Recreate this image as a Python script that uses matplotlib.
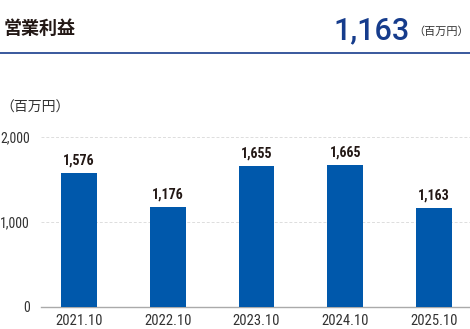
import matplotlib
matplotlib.use("Agg")
import matplotlib.pyplot as plt
from matplotlib import font_manager as fm

categories = ["2021.10", "2022.10", "2023.10", "2024.10", "2025.10"]
values = [1576, 1176, 1655, 1665, 1163]
value_labels = ["1,576", "1,176", "1,655", "1,665", "1,163"]
yticks = [0, 1000, 2000]
ytick_labels = ["0", "1,000", "2,000"]
title = "営業利益"
headline_value = "1,163"
unit = "（百万円）"

names = {f.name for f in fm.fontManager.ttflist}
cond = None
for n in ["Liberation Sans Narrow", "DejaVu Sans Condensed", "Roboto Condensed", "Open Sans Condensed"]:
    if n in names:
        cond = n
        break
if cond is None:
    cond = "DejaVu Sans"
CJK = ["Noto Sans CJK JP", "DejaVu Sans"]

W, H = 470, 329
fig = plt.figure(figsize=(W / 100, H / 100), dpi=100)
ax_left, ax_right, ax_bottom, ax_top = 41, 470, 307, 136.5
ax = fig.add_axes([ax_left / W, 1 - ax_bottom / H, (ax_right - ax_left) / W, (ax_bottom - ax_top) / H])

bar_color = "#0058AB"
x = list(range(len(categories)))
ax.bar(x, values, width=0.405, color=bar_color, zorder=3)
ax.set_xlim(-0.428, 4.405)
ax.set_ylim(0, 2000)
for xi, v, lab in zip(x, values, value_labels):
    ax.annotate(lab, (xi, v), xytext=(0, 4), textcoords="offset points", ha="center", va="bottom",
                fontsize=10, fontweight="bold", family=cond, color="#231815")

ax.set_yticks(yticks)
ax.set_yticklabels(ytick_labels, family=cond, fontsize=10, color="#333333")
ax.set_xticks(x)
ax.set_xticklabels(categories, family=cond, fontsize=10.5, color="#333333")
ax.tick_params(axis="both", length=0)
ax.tick_params(axis="y", pad=8)
ax.tick_params(axis="x", pad=5)
for yv in [1000, 2000]:
    ax.axhline(yv, color="#dddddd", linestyle=(0, (3, 2)), linewidth=0.7, zorder=1, clip_on=False)
for s in ["top", "right", "left"]:
    ax.spines[s].set_visible(False)
ax.spines["bottom"].set_color("#aaaaaa")
ax.spines["bottom"].set_linewidth(1.0)

# header
fig.text(4 / W, 1 - 28 / H, title, family=CJK, fontsize=13, fontweight="bold", color="#231815",
         ha="left", va="center")
fig.text(410 / W, 1 - 39 / H, headline_value, family=["Roboto", "DejaVu Sans"], fontsize=22,
         fontweight="medium", color="#163c8c", ha="right", va="baseline")
fig.text(469 / W, 1 - 32 / H, unit, family=CJK, fontsize=8, color="#333333", ha="right", va="center")
fig.add_artist(plt.Line2D([0, 1], [1 - 52.5 / H, 1 - 52.5 / H], color="#163c8c", linewidth=1.2,
                          transform=fig.transFigure))
fig.text(0 / W, 1 - 108 / H, "（百万円）", family=CJK, fontsize=10, color="#333333", ha="left", va="center")

fig.savefig("out.png", dpi=100)
